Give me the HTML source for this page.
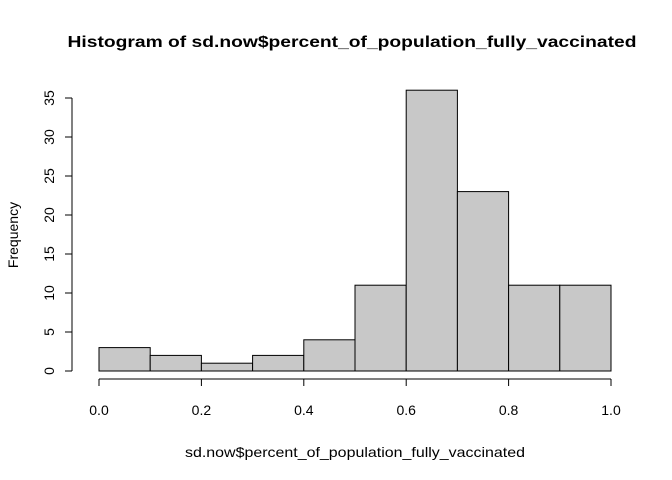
<!DOCTYPE html>
<html><head><meta charset="utf-8"><style>
body{margin:0;background:#fff}
svg{display:block;font-family:"Liberation Sans",Arial,sans-serif}
</style></head><body>
<svg id="c" width="672" height="480">
<text x="352" y="47" text-anchor="middle" font-weight="bold" font-size="16" textLength="569" lengthAdjust="spacingAndGlyphs">Histogram of sd.now$percent_of_population_fully_vaccinated</text>
<text x="355" y="457" text-anchor="middle" font-size="14" textLength="340" lengthAdjust="spacingAndGlyphs">sd.now$percent_of_population_fully_vaccinated</text>
<text x="18" y="235" text-anchor="middle" font-size="14" transform="rotate(-90 18 235)">Frequency</text>
<g id="bars"></g><g id="xa"></g><g id="ya"></g>
</svg>
<script>
const binEdges=[0,0.1,0.2,0.3,0.4,0.5,0.6,0.7,0.8,0.9,1.0];
const counts=[3,2,1,2,4,11,36,23,11,11];
const xTicks=[0,0.2,0.4,0.6,0.8,1.0];
const xTickLabels=["0.0","0.2","0.4","0.6","0.8","1.0"];
const yTicks=[0,5,10,15,20,25,30,35];
const NS="http://www.w3.org/2000/svg";
const x=v=>99+v*512;
const y=v=>371-v*7.8;
function mk(t,a,p){const e=document.createElementNS(NS,t);for(const k in a)e.setAttribute(k,a[k]);p.appendChild(e);return e;}
const bars=document.getElementById('bars');
counts.forEach((c,i)=>{
 const r=mk('rect',{x:x(binEdges[i]),y:y(c),width:x(binEdges[i+1])-x(binEdges[i]),height:y(0)-y(c),fill:'#c8c8c8',stroke:'#000','stroke-width':1},bars);
 
 
});
const xa=document.getElementById('xa');
const xl=mk('line',{x1:x(xTicks[0]),x2:x(xTicks[xTicks.length-1]),y1:379,y2:379,stroke:'#000'},xa);


xTicks.forEach((t,i)=>{
 mk('line',{x1:x(t),x2:x(t),y1:379,y2:386,stroke:'#000'},xa);
 const tx=mk('text',{x:x(t),y:415,'text-anchor':'middle','font-size':14},xa);
 tx.textContent=xTickLabels[i];
 
 
});
const ya=document.getElementById('ya');
const yl=mk('line',{x1:72,x2:72,y1:y(yTicks[0]),y2:y(yTicks[yTicks.length-1]),stroke:'#000'},ya);


yTicks.forEach(t=>{
 mk('line',{x1:65,x2:72,y1:y(t),y2:y(t),stroke:'#000'},ya);
 const tx=mk('text',{x:54,y:y(t),'text-anchor':'middle','font-size':14,transform:`rotate(-90 54 ${y(t)})`},ya);
 tx.textContent=t;
 
 
});
</script>
</body></html>
